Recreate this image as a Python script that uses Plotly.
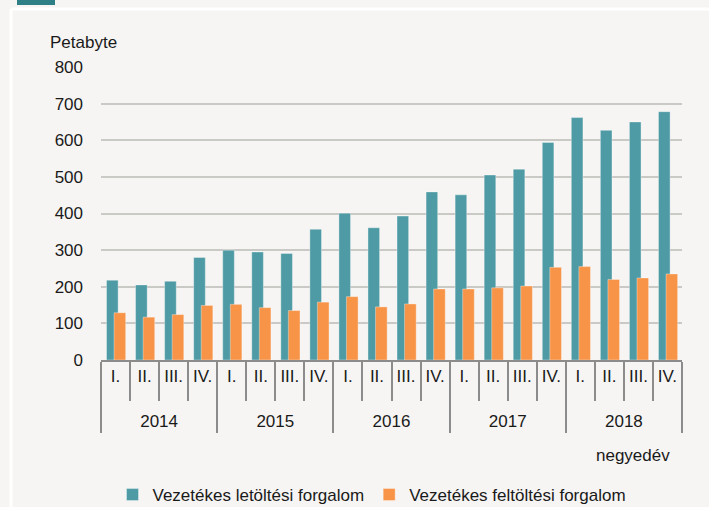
import plotly.graph_objects as go

years = ["2014", "2015", "2016", "2017", "2018"]
quarters = ["I.", "II.", "III.", "IV."]

download = [218, 205, 215, 280,
            300, 295, 291, 357,
            401, 361, 393, 459,
            451, 505, 521, 594,
            662, 627, 650, 678]
upload = [129, 117, 124, 149,
          152, 143, 135, 158,
          173, 145, 153, 194,
          194, 197, 202, 253,
          255, 220, 224, 235]

series_names = ["Vezetékes letöltési forgalom", "Vezetékes feltöltési forgalom"]
y_title = "Petabyte"
x_title = "negyedév"

W, H = 709, 507
L, R, T, B = 101, 682, 67, 360

def px_x(p):
    return (p - L) / (R - L)

def px_y(p):
    return (B - p) / (B - T)

x_outer = [y for y in years for _ in quarters]
# extra blank line under the quarter labels pushes the year row lower
x_inner = [q + "<br><span style='font-size:30px'>&nbsp;</span>" for _ in years for q in quarters]

FONT = "Liberation Sans, Arial, sans-serif"
FS = 17
BG = "#f6f5f3"

fig = go.Figure()
fig.add_trace(go.Bar(
    x=[x_outer, x_inner], y=download, name=series_names[0],
    marker=dict(color="#4f9ba5", line=dict(color="rgba(255,255,255,0.35)", width=1)),
    width=0.4, offset=-0.31,
))
fig.add_trace(go.Bar(
    x=[x_outer, x_inner], y=upload, name=series_names[1],
    marker=dict(color="#f79448", line=dict(color="rgba(255,255,255,0.35)", width=1)),
    width=0.4, offset=-0.05,
))

fig.update_layout(
    width=W, height=H,
    margin=dict(l=L, r=W - R, t=T, b=H - B, pad=0, autoexpand=False),
    paper_bgcolor=BG, plot_bgcolor=BG,
    barmode="overlay",
    font=dict(family=FONT, size=FS, color="#1a1a1a"),
    showlegend=True,
    legend=dict(orientation="h", x=372 / W, xanchor="center", xref="container",
                y=1 - 495 / H, yanchor="middle", yref="container",
                font=dict(size=FS), bgcolor="rgba(0,0,0,0)",
                itemwidth=30, tracegroupgap=0),
    xaxis=dict(
        type="multicategory", automargin=False,
        showline=True, linecolor="#8c8c8c", linewidth=2,
        ticks="outside", ticklen=39, tickcolor="#8c8c8c", tickwidth=2,
        showdividers=True, dividercolor="#8c8c8c", dividerwidth=2,
        tickfont=dict(size=FS), tickangle=0,
        showgrid=False,
    ),
    yaxis=dict(
        range=[0, 800], dtick=100, tick0=0, automargin=False,
        showgrid=True, gridcolor="#c9c9c5", gridwidth=1.5,
        zeroline=False, showline=False,
        ticks="", ticklabelstandoff=17,
        tickfont=dict(size=FS),
    ),
    shapes=[
        dict(type="rect", xref="paper", yref="paper",
             x0=px_x(17), x1=px_x(55), y0=px_y(5), y1=px_y(-2),
             fillcolor="#2f7f86", line=dict(width=0), layer="above"),
        dict(type="line", xref="paper", yref="paper",
             x0=px_x(11), x1=px_x(712), y0=px_y(9), y1=px_y(9),
             line=dict(color="white", width=3)),
        dict(type="line", xref="paper", yref="paper",
             x0=px_x(11), x1=px_x(11), y0=px_y(9), y1=px_y(510),
             line=dict(color="white", width=3)),
    ],
    annotations=[
        dict(text=y_title, xref="paper", yref="paper",
             x=px_x(48), y=px_y(42), xanchor="left", yanchor="middle",
             showarrow=False, font=dict(size=FS)),
        dict(text=x_title, xref="paper", yref="paper",
             x=px_x(633), y=px_y(455), xanchor="center", yanchor="middle",
             showarrow=False, font=dict(size=FS)),
    ],
)

fig.write_html("out.html", config={"displayModeBar": False},
               post_script="document.body.style.margin='0';document.body.style.padding='0';")
